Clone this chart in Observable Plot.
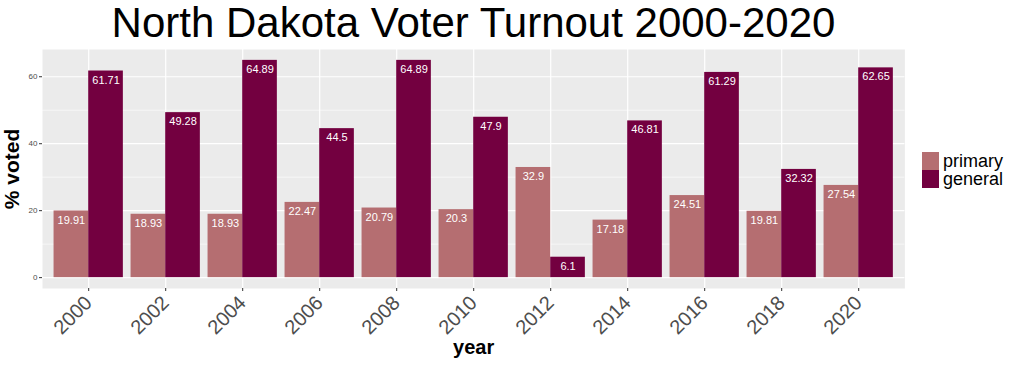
<!DOCTYPE html>
<html>
<head>
<meta charset="utf-8">
<script src="https://cdn.jsdelivr.net/npm/d3@7"></script>
<script src="https://cdn.jsdelivr.net/npm/@observablehq/plot@0.6"></script>
<style>
  html, body { margin: 0; padding: 0; background: #fff; }
  #wrap { position: relative; width: 1024px; height: 366px; font-family: "Liberation Sans", Arial, sans-serif; }
  #title { position: absolute; left: 0; top: 0; width: 947px; height: 46px; text-align: center; font-size: 42px; line-height: 46px; color: #000; white-space: nowrap; }
  #chart { position: absolute; left: 0; top: 46px; }
  #legend { position: absolute; left: 922px; top: 152px; display: flex; }
  #keys { display: flex; flex-direction: column; margin-right: 4px; }
  .key { width: 17px; height: 18px; }
  #labels { font-size: 18px; line-height: 18px; color: #000; white-space: nowrap; }
</style>
</head>
<body>
<div id="wrap">
  <div id="title">North Dakota Voter Turnout 2000-2020</div>
  <div id="chart"></div>
  <div id="legend"><div id="keys"></div><div id="labels"></div></div>
</div>
<script>
const years = ["2000","2002","2004","2006","2008","2010","2012","2014","2016","2018","2020"];
const primary = [19.91,18.93,18.93,22.47,20.79,20.3,32.9,17.18,24.51,19.81,27.54];
const general = [61.71,49.28,64.89,44.5,64.89,47.9,6.1,46.81,61.29,32.32,62.65];
const seriesNames = ["primary","general"];
const seriesColors = ["#b56e71","#730040"];
const yTicks = [0,20,40,60];
const yMinor = [10,30,50];

const primaryData = years.map((y,i) => ({year: y, value: primary[i], type: "primary"}));
const generalData = years.map((y,i) => ({year: y, value: general[i], type: "general"}));

const W = 1024, H = 320;
const mL = 42, mR = 119.6, mT = 3, mB = 78;
const step = (W - mL - mR) / 11.2;
const half = step * 0.9 / 2;
const maxV = d3.max(general.concat(primary));
const ext = maxV * 0.05;

const plot = Plot.plot({
  width: W, height: H,
  marginLeft: mL, marginRight: mR, marginTop: mT, marginBottom: mB,
  style: {fontFamily: "Liberation Sans, Arial, sans-serif", background: "transparent"},
  x: {domain: years, paddingInner: 0.1, paddingOuter: 0.15, round: false, label: null},
  y: {domain: [-ext, maxV + ext], label: null},
  marks: [
    Plot.frame({fill: "#ebebeb", stroke: null}),
    Plot.ruleY(yMinor, {stroke: "#fff", strokeWidth: 0.6}),
    Plot.ruleY(yTicks, {stroke: "#fff", strokeWidth: 1.2}),
    Plot.ruleX(years, {x: d => d, stroke: "#fff", strokeWidth: 1.2}),
    Plot.barY(primaryData, {x: "year", y: "value", fill: seriesColors[0], insetRight: half, insetLeft: 0}),
    Plot.barY(generalData, {x: "year", y: "value", fill: seriesColors[1], insetLeft: half, insetRight: 0}),
    Plot.text(primaryData, {x: "year", y: "value", text: d => String(d.value), dx: -half/2, dy: 9, fill: "#fff", fontSize: 11}),
    Plot.text(generalData, {x: "year", y: "value", text: d => String(d.value), dx: half/2, dy: 9, fill: "#fff", fontSize: 11}),
    Plot.axisY(yTicks, {tickSize: 3, tickPadding: 2, fontSize: 8, color: "#4d4d4d", stroke: "#333", label: null}),
    Plot.axisX({tickSize: 3, tickPadding: 8, fontSize: 20, tickRotate: -45, color: "#4d4d4d", stroke: "#333", label: null}),
    Plot.text(["% voted"], {frameAnchor: "left", textAnchor: "middle", lineAnchor: "middle", dx: -30, rotate: -90, fontSize: 21, fontWeight: "bold", fill: "#000"}),
    Plot.text(["year"], {frameAnchor: "bottom", lineAnchor: "bottom", dy: 65, fontSize: 20, fontWeight: "bold", fill: "#000"})
  ]
});
document.getElementById("chart").appendChild(plot);

const keys = document.getElementById("keys");
seriesColors.forEach(c => {
  const k = document.createElement("div");
  k.className = "key";
  k.style.background = c;
  keys.appendChild(k);
});
document.getElementById("labels").innerHTML = seriesNames.join("<br>");
</script>
</body>
</html>
